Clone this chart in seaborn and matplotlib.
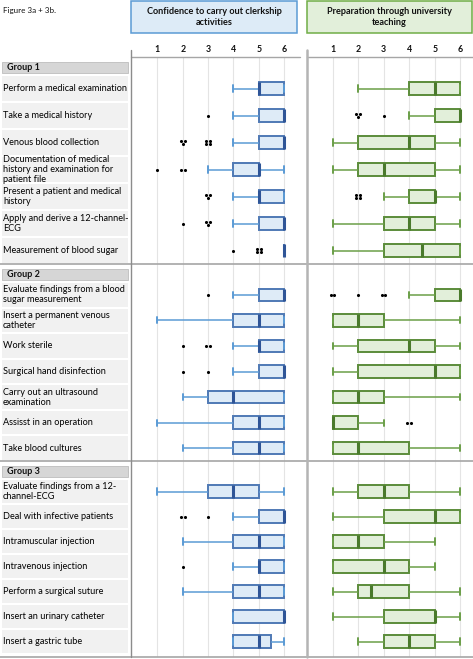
import pandas as pd
import matplotlib
matplotlib.use("Agg")
import matplotlib.pyplot as plt
from matplotlib.patches import Rectangle
from matplotlib.lines import Line2D
import seaborn as sns

groups = ["Group 1", "Group 2", "Group 3"]
activities = [
    "Perform a medical examination",
    "Take a medical history",
    "Venous blood collection",
    "Documentation of medical\nhistory and examination for\npatient file",
    "Present a patient and medical\nhistory",
    "Apply and derive a 12-channel-\nECG",
    "Measurement of blood sugar",
    "Evaluate findings from a blood\nsugar measurement",
    "Insert a permanent venous\ncatheter",
    "Work sterile",
    "Surgical hand disinfection",
    "Carry out an ultrasound\nexamination",
    "Assisst in an operation",
    "Take blood cultures",
    "Evaluate findings from a 12-\nchannel-ECG",
    "Deal with infective patients",
    "Intramuscular injection",
    "Intravenous injection",
    "Perform a surgical suture",
    "Insert an urinary catheter",
    "Insert a gastric tube",
]
scale_ticks = [1, 2, 3, 4, 5, 6]

# confidence to carry out clerkship activities (five-number summaries)
conf_low = [4, 4, 4, 3, 4, 4, 6, 4, 1, 4, 4, 2, 1, 2, 1, 4, 2, 4, 2, 4, 4]
conf_q1 = [5, 5, 5, 4, 5, 5, 6, 5, 4, 5, 5, 3, 4, 4, 3, 5, 4, 5, 4, 4, 4]
conf_med = [5, 6, 6, 5, 5, 6, 6, 6, 5, 5, 6, 4, 5, 5, 4, 6, 5, 5, 5, 6, 5]
conf_q3 = [6, 6, 6, 5, 6, 6, 6, 6, 6, 6, 6, 6, 6, 6, 5, 6, 6, 6, 6, 6, 5.5]
conf_high = [6, 6, 6, 6, 6, 6, 6, 6, 6, 6, 6, 6, 6, 6, 6, 6, 6, 6, 6, 6, 6]
conf_outliers = [
    [], [(3, 1)], [(2, 3), (3, 4)], [(1, 1), (2, 2)], [(3, 3)], [(2, 1), (3, 3)], [(4, 1), (5, 4)],
    [(3, 1)], [], [(2, 1), (3, 2)], [(2, 1), (3, 1)], [], [], [],
    [], [(2, 2), (3, 1)], [], [(2, 1)], [], [], [],
]

# preparation through university teaching
prep_low = [2, 4, 1, 1, 3, 1, 1, 4, 1, 1, 1, 1, 1, 1, 1, 1, 1, 1, 1, 1, 2]
prep_q1 = [4, 5, 2, 2, 4, 3, 3, 5, 1, 2, 2, 1, 1, 1, 2, 3, 1, 1, 2, 3, 3]
prep_med = [5, 6, 4, 3, 5, 4, 4.5, 6, 2, 4, 5, 2, 1, 2, 3, 5, 2, 3, 2.5, 5, 4]
prep_q3 = [6, 6, 5, 5, 5, 5, 6, 6, 3, 5, 6, 3, 2, 4, 4, 6, 3, 4, 4, 5, 5]
prep_high = [6, 6, 6, 6, 6, 6, 6, 6, 6, 6, 6, 6, 3, 6, 6, 6, 5, 5, 6, 6, 6]
prep_outliers = [
    [], [(2, 3), (3, 1)], [], [], [(2, 4)], [], [],
    [(1, 2), (2, 1), (3, 2)], [], [], [], [], [(4, 2)], [],
    [], [], [], [], [], [], [],
]

W, H = 473, 659
group_top = [57, 264, 461]
group_bottom = [264, 461, 654]
header_h = 18

row_pos = []
for top, bottom in zip(group_top, group_bottom):
    step = (bottom - top - header_h) / 7
    row_pos += [top + header_h + step * (i + 0.5) for i in range(7)]


def fx(px):
    return px / W


def fy(py):
    return 1 - py / H


def long_frame(low, q1, med, q3, high):
    recs = []
    for pos, vals in zip(row_pos, zip(low, q1, med, q3, high)):
        for v in vals:
            recs.append({"pos": pos, "value": v})
    return pd.DataFrame(recs)


cluster = {
    1: [(0, 0)],
    2: [(-1, 0), (1, 0)],
    3: [(-1, -1), (1, -1), (0, 1)],
    4: [(-1, -1), (1, -1), (-1, 1), (1, 1)],
}


def draw_panel(ax, frame, outliers, face, edge, med_c, whisk_c, xmax):
    sns.boxplot(data=frame, x="value", y="pos", orient="y", native_scale=True,
                width=0.5, whis=(0, 100), showfliers=False, saturation=1,
                color=face, linecolor=edge, linewidth=1.4,
                medianprops={"color": med_c, "linewidth": 2.2},
                whiskerprops={"color": whisk_c, "linewidth": 1.1},
                capprops={"color": whisk_c, "linewidth": 1.4}, ax=ax)
    pts = []
    for pos, outs in zip(row_pos, outliers):
        for value, count in outs:
            for dx, dy in cluster[count]:
                pts.append({"x": value + dx * 0.07, "y": pos + dy * 1.6})
    sns.scatterplot(data=pd.DataFrame(pts), x="x", y="y", color="black",
                    s=5, linewidth=0, ax=ax, zorder=5)
    ax.set_xlim(0, xmax)
    ax.set_ylim(657, 57)
    ax.set_xticks(scale_ticks)
    ax.set_xticklabels([str(t) for t in scale_ticks], fontweight="bold")
    ax.xaxis.tick_top()
    ax.tick_params(axis="x", length=0, pad=2, labelsize=6.3, colors="#111111")
    ax.set_yticks([])
    ax.set_xlabel("")
    ax.set_ylabel("")
    ax.grid(axis="x", color="#e4e4e4", lw=0.8)
    ax.set_axisbelow(True)
    for s in ax.spines.values():
        s.set_visible(False)


sns.set_style("white")
plt.rcParams["font.family"] = ["Lato", "DejaVu Sans"]

fig = plt.figure(figsize=(W / 100, H / 100), dpi=100)

ax_conf = fig.add_axes([fx(132), fy(657), (307 - 132) / W, 600 / H])
ax_prep = fig.add_axes([fx(307), fy(657), (471 - 307) / W, 600 / H])

draw_panel(ax_conf, long_frame(conf_low, conf_q1, conf_med, conf_q3, conf_high),
           conf_outliers, "#deebf7", "#4f79b5", "#2f5597", "#5b9bd5", 6.9)
draw_panel(ax_prep, long_frame(prep_low, prep_q1, prep_med, prep_q3, prep_high),
           prep_outliers, "#e2efda", "#5b8c3a", "#4a7a2c", "#6b9f48", 6.42)

# titles
fig.text(fx(3), fy(10), "Figure 3a + 3b.", fontsize=5.8, va="center", color="#111111")
boxes = [(131, 297, "#ddebf7", "#5b9bd5", "Confidence to carry out clerkship\nactivities"),
         (307, 472, "#e2efda", "#70ad47", "Preparation through university\nteaching")]
for x0, x1, fc, ec, txt in boxes:
    fig.patches.append(Rectangle((fx(x0), fy(33)), (x1 - x0) / W, 32 / H,
                                 transform=fig.transFigure, facecolor=fc,
                                 edgecolor=ec, lw=1.1))
    fig.text(fx((x0 + x1) / 2), fy(17), txt, ha="center", va="center",
             fontsize=6.6, fontweight="bold", linespacing=1.25, color="#111111")

# row labels
for g, top in enumerate(group_top):
    fig.patches.append(Rectangle((fx(2), fy(top + 16)), 126 / W, 11 / H,
                                 transform=fig.transFigure, facecolor="#d6d6d6",
                                 edgecolor="#bdbdbd", lw=0.6))
    fig.text(fx(7), fy(top + 10.5), groups[g], fontsize=6.5, fontweight="bold",
             va="center", color="#111111")
    step = (group_bottom[g] - top - header_h) / 7
    for i in range(7):
        k = g * 7 + i
        pos = row_pos[k]
        fig.patches.append(Rectangle((fx(2), fy(pos + step / 2 - 1)), 126 / W,
                                     (step - 2) / H, transform=fig.transFigure,
                                     facecolor="#f1f1f1", edgecolor="none"))
        fig.text(fx(3), fy(pos), activities[k], fontsize=6.6, va="center",
                 linespacing=1.15, color="#000000")

# separators
for y in [264, 461, 657]:
    fig.lines.append(Line2D([0, 1], [fy(y), fy(y)], transform=fig.transFigure,
                            color="#a6a6a6", lw=1.2))
for x0, x1 in [(131, 300), (307, 473)]:
    fig.lines.append(Line2D([fx(x0), fx(x1)], [fy(57), fy(57)], transform=fig.transFigure,
                            color="#a6a6a6", lw=1.0))
fig.lines.append(Line2D([fx(131), fx(131)], [fy(50), fy(657)], transform=fig.transFigure,
                        color="#8c8c8c", lw=1.0))
fig.lines.append(Line2D([fx(307), fx(307)], [fy(50), fy(657)], transform=fig.transFigure,
                        color="#b4b4b4", lw=1.8))

fig.savefig("out.png", dpi=100)
